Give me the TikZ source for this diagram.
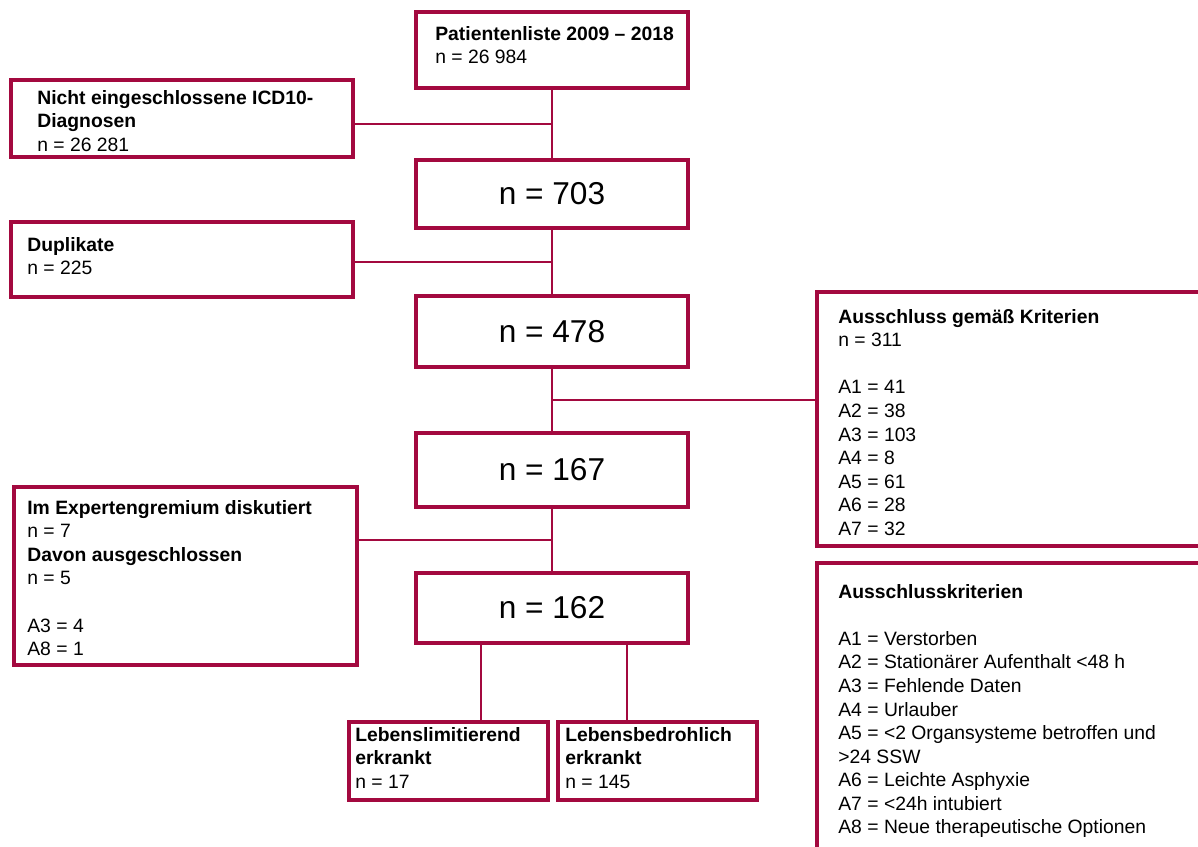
\documentclass[tikz,border=0pt]{standalone}
\usepackage{fontspec}
\setmainfont{Liberation Sans}
\usetikzlibrary{calc}
\definecolor{crimson}{HTML}{A3093F}

\begin{document}
\begin{tikzpicture}[
  x=0.02cm, y=-0.02cm,
  box/.style={draw=crimson,line width=1.9pt,inner sep=0pt},
  txt/.style={anchor=north west,align=left,inner sep=0pt,font=\fontsize{11}{13.4}\selectfont},
  big/.style={font=\fontsize{18}{22}\selectfont},
  conn/.style={draw=crimson,line width=0.8pt}
]
\useasboundingbox (0,0) rectangle (1198,847);
% main column
\node[box,big,minimum width=5.44cm,minimum height=1.52cm] (liste) at (552,50) {};
\node[box,big,minimum width=5.44cm,minimum height=1.36cm] (n703) at (552,194) {n = 703};
\node[box,big,minimum width=5.44cm,minimum height=1.42cm] (n478) at (552,331.5) {n = 478};
\node[box,big,minimum width=5.44cm,minimum height=1.48cm] (n167) at (552,470) {n = 167};
\node[box,big,minimum width=5.44cm,minimum height=1.40cm] (n162) at (552,608) {n = 162};
\node[txt] (listetxt) at (435,26) {\textbf{Patientenliste 2009 – 2018}\\n = 26 984};
% exclusions left
\node[box,minimum width=6.84cm,minimum height=1.54cm] (icd) at (182,118.5) {};
\node[txt] (icdtxt) at (37,90) {\textbf{Nicht eingeschlossene ICD10-}\\\textbf{Diagnosen}\\n = 26 281};
\node[box,minimum width=6.84cm,minimum height=1.50cm] (dup) at (182,259.5) {};
\node[txt] (duptxt) at (27,237) {\textbf{Duplikate}\\n = 225};
\node[box,minimum width=6.86cm,minimum height=3.56cm] (expert) at (185.5,576) {};
\node[txt] (experttxt) at (27,500) {\textbf{Im Expertengremium diskutiert}\\n = 7\\
  \textbf{Davon ausgeschlossen}\\n = 5\\[13.4pt]A3 = 4\\A8 = 1};
% right side
\node[box,minimum width=7.86cm,minimum height=5.08cm] (aus) at (1013.5,419) {};
\node[txt] (austxt) at (838,309) {\textbf{Ausschluss gemäß Kriterien}\\n = 311\\[13.4pt]
  A1 = 41\\A2 = 38\\A3 = 103\\A4 = 8\\A5 = 61\\A6 = 28\\A7 = 32};
\node[box,minimum width=7.86cm,minimum height=6.14cm] (krit) at (1013.5,716.5) {};
\node[txt] (krittxt) at (838,584) {\textbf{Ausschlusskriterien}\\[13.4pt]
  A1 = Verstorben\\A2 = Stationärer Aufenthalt <48 h\\A3 = Fehlende Daten\\
  A4 = Urlauber\\A5 = <2 Organsysteme betroffen und\\>24 SSW\\
  A6 = Leichte Asphyxie\\A7 = <24h intubiert\\A8 = Neue therapeutische Optionen};
% groups
\node[box,minimum width=3.98cm,minimum height=1.56cm] (leblim) at (448.5,761) {};
\node[txt] (leblimtxt) at (355,727) {\textbf{Lebenslimitierend}\\\textbf{erkrankt}\\n = 17};
\node[box,minimum width=3.98cm,minimum height=1.56cm] (lebbed) at (657.5,761) {};
\node[txt] (lebbedtxt) at (565,727) {\textbf{Lebensbedrohlich}\\\textbf{erkrankt}\\n = 145};
% connectors
\draw[conn] (liste) -- (n703);
\draw[conn] (n703) -- (n478);
\draw[conn] (n478) -- (n167);
\draw[conn] (n167) -- (n162);
\coordinate (m1) at ($(liste.south)!0.5!(n703.north)$);
\coordinate (m2) at ($(n703.south)!0.5!(n478.north)$);
\coordinate (m3) at ($(n478.south)!0.5!(n167.north)$);
\coordinate (m4) at ($(n167.south)!0.5!(n162.north)$);
\draw[conn] (m1 -| icd.east) -- (m1);
\draw[conn] (m2 -| dup.east) -- (m2);
\draw[conn] (m3) -- (m3 -| aus.west);
\draw[conn] (m4 -| expert.east) -- (m4);
\coordinate (c1) at ($(n162.south)+(-71,0)$);
\coordinate (c2) at ($(n162.south)+(75,0)$);
\draw[conn] (c1) -- (c1 |- leblim.north);
\draw[conn] (c2) -- (c2 |- lebbed.north);
\end{tikzpicture}
\end{document}
